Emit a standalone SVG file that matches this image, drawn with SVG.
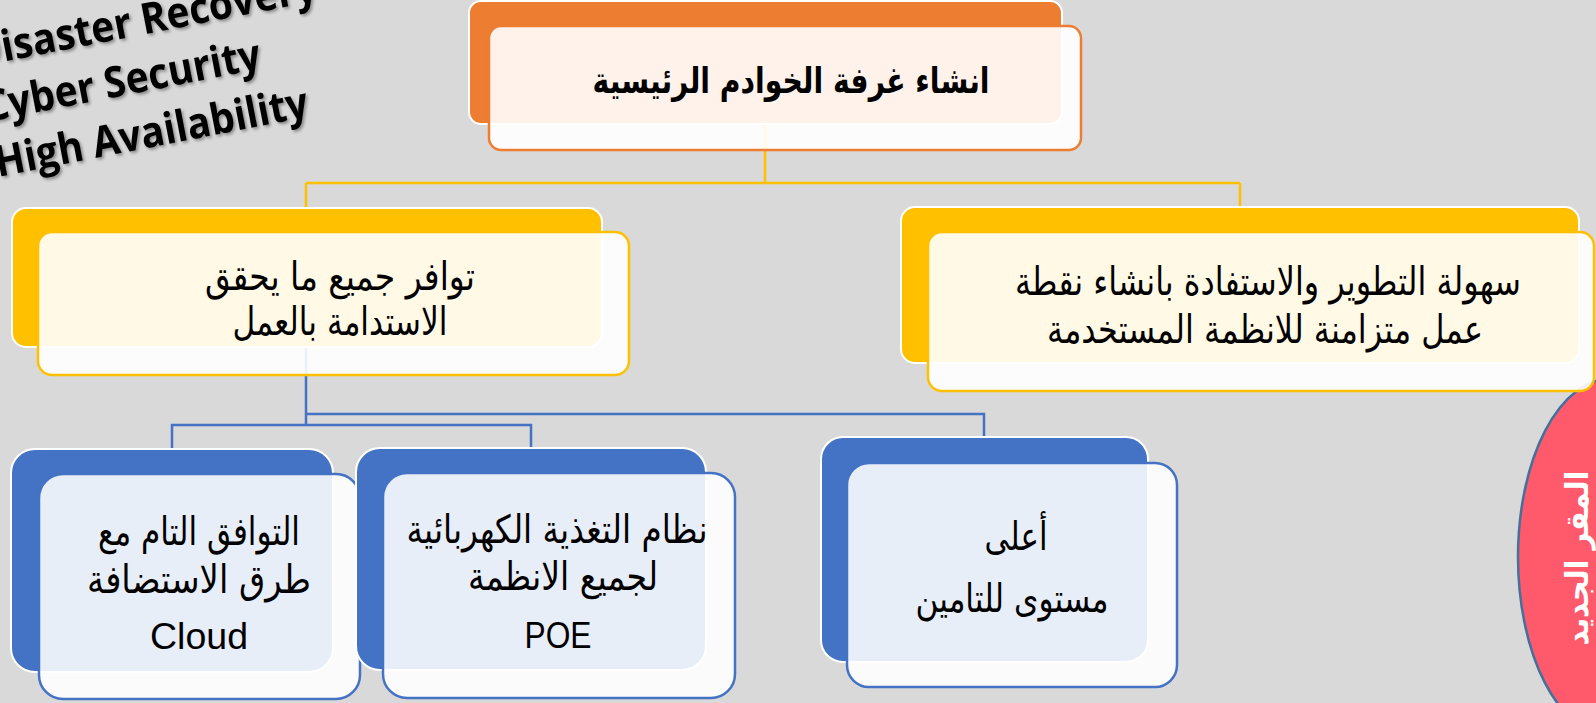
<svg xmlns="http://www.w3.org/2000/svg" width="1596" height="703" viewBox="0 0 1596 703">
<defs>
<style>
.bg{fill:#D9D9D9}
.backO{fill:#ED7D31;stroke:#FFFFFF;stroke-width:2}
.frontO{fill:#FFFFFF;fill-opacity:0.9;stroke:#ED7D31;stroke-width:2.5}
.backY{fill:#FFC000;stroke:#FFFFFF;stroke-width:2}
.frontY{fill:#FFFFFF;fill-opacity:0.9;stroke:#FFC000;stroke-width:2.5}
.backB{fill:#4472C4;stroke:#FFFFFF;stroke-width:2}
.frontB{fill:#FFFFFF;fill-opacity:0.88;stroke:#4472C4;stroke-width:2.5}
.ar{font-family:"DejaVu Sans","Liberation Sans",sans-serif;font-size:39px;fill:#000000;text-anchor:middle}
.arb{font-family:"DejaVu Sans","Liberation Sans",sans-serif;font-size:36px;font-weight:bold;fill:#000000;text-anchor:middle}
.en{font-family:"Liberation Sans",Arial,sans-serif;font-size:36px;fill:#000000;text-anchor:middle}
.ov{font-family:"Open Sans","Liberation Sans",sans-serif;font-size:43px;font-weight:bold;fill:#000000}
.connY{fill:none;stroke:#FFC000;stroke-width:2.5}
.connB{fill:none;stroke:#4472C4;stroke-width:2.5}
</style>
<filter id="sh" x="-10%" y="-30%" width="120%" height="160%">
<feDropShadow dx="2" dy="2" stdDeviation="1.5" flood-color="#000000" flood-opacity="0.35"/>
</filter>
</defs>
<rect class="bg" x="0" y="0" width="1596" height="703"/>

<g id="overlay-text" filter="url(#sh)">
<text class="ov" x="-24" y="67" transform="rotate(-11 -24 67)" textLength="349" lengthAdjust="spacingAndGlyphs">Disaster Recovery</text>
<text class="ov" x="-13" y="122" transform="rotate(-11 -13 122)" textLength="281" lengthAdjust="spacingAndGlyphs">Cyber Security</text>
<text class="ov" x="-2" y="177" transform="rotate(-11 -2 177)" textLength="318" lengthAdjust="spacingAndGlyphs">High Availability</text>
</g>

<g id="connectors">
<path class="connY" d="M765,124 V183 M306,183 H1240 M306,183 V208 M1240,183 V207"/>
<path class="connB" d="M306,347 V425 M306,414 H984 V437 M172,449 V425 H531 V448"/>
</g>

<g id="new-hq">
<ellipse cx="1610" cy="557" rx="92" ry="178" fill="#FF5A6B" stroke="#41719C" stroke-width="2.5"/>
<text x="1588" y="558" transform="rotate(-90 1588 558)" font-family="DejaVu Sans,Liberation Sans,sans-serif" font-size="31" font-weight="bold" fill="#FFFFFF" text-anchor="middle" textLength="175" lengthAdjust="spacingAndGlyphs">المقر الجديد</text>
</g>

<g id="node-main">
<rect class="backO" x="469" y="1" width="593" height="123" rx="12"/>
<rect class="frontO" x="489" y="26" width="592" height="124" rx="12"/>
<text class="arb" x="791" y="93" textLength="397" lengthAdjust="spacingAndGlyphs">انشاء غرفة الخوادم الرئيسية</text>
</g>

<g id="node-sustain">
<rect class="backY" x="12" y="208" width="590" height="139" rx="14"/>
<rect class="frontY" x="38" y="232" width="591" height="143" rx="14"/>
<text class="ar" x="340" y="290" textLength="270" lengthAdjust="spacingAndGlyphs">توافر جميع ما يحقق</text>
<text class="ar" x="340" y="335" textLength="215" lengthAdjust="spacingAndGlyphs">الاستدامة بالعمل</text>
</g>

<g id="node-dev">
<rect class="backY" x="901" y="207" width="678" height="156" rx="14"/>
<rect class="frontY" x="928" y="232" width="666" height="159" rx="14"/>
<text class="ar" x="1268" y="295" textLength="506" lengthAdjust="spacingAndGlyphs">سهولة التطوير والاستفادة بانشاء نقطة</text>
<text class="ar" x="1265" y="343" textLength="436" lengthAdjust="spacingAndGlyphs">عمل متزامنة للانظمة المستخدمة</text>
</g>

<g id="node-cloud">
<rect class="backB" x="11" y="449" width="322" height="223" rx="24"/>
<rect class="frontB" x="39" y="474" width="321" height="225" rx="24"/>
<text class="ar" x="199" y="545" textLength="202" lengthAdjust="spacingAndGlyphs">التوافق التام مع</text>
<text class="ar" x="199" y="593" textLength="224" lengthAdjust="spacingAndGlyphs">طرق الاستضافة</text>
<text class="en" x="199" y="649" textLength="98" lengthAdjust="spacingAndGlyphs">Cloud</text>
</g>

<g id="node-poe">
<rect class="backB" x="356" y="448" width="350" height="222" rx="24"/>
<rect class="frontB" x="383" y="473" width="352" height="225" rx="24"/>
<text class="ar" x="557" y="543" textLength="301" lengthAdjust="spacingAndGlyphs">نظام التغذية الكهربائية</text>
<text class="ar" x="563" y="590" textLength="190" lengthAdjust="spacingAndGlyphs">لجميع الانظمة</text>
<text class="en" x="558" y="648" textLength="67" lengthAdjust="spacingAndGlyphs">POE</text>
</g>

<g id="node-security">
<rect class="backB" x="821" y="437" width="327" height="225" rx="22"/>
<rect class="frontB" x="847" y="463" width="330" height="224" rx="22"/>
<text class="ar" x="1016" y="550" textLength="63" lengthAdjust="spacingAndGlyphs">أعلى</text>
<text class="ar" x="1012" y="612" textLength="193" lengthAdjust="spacingAndGlyphs">مستوى للتامين</text>
</g>
</svg>
